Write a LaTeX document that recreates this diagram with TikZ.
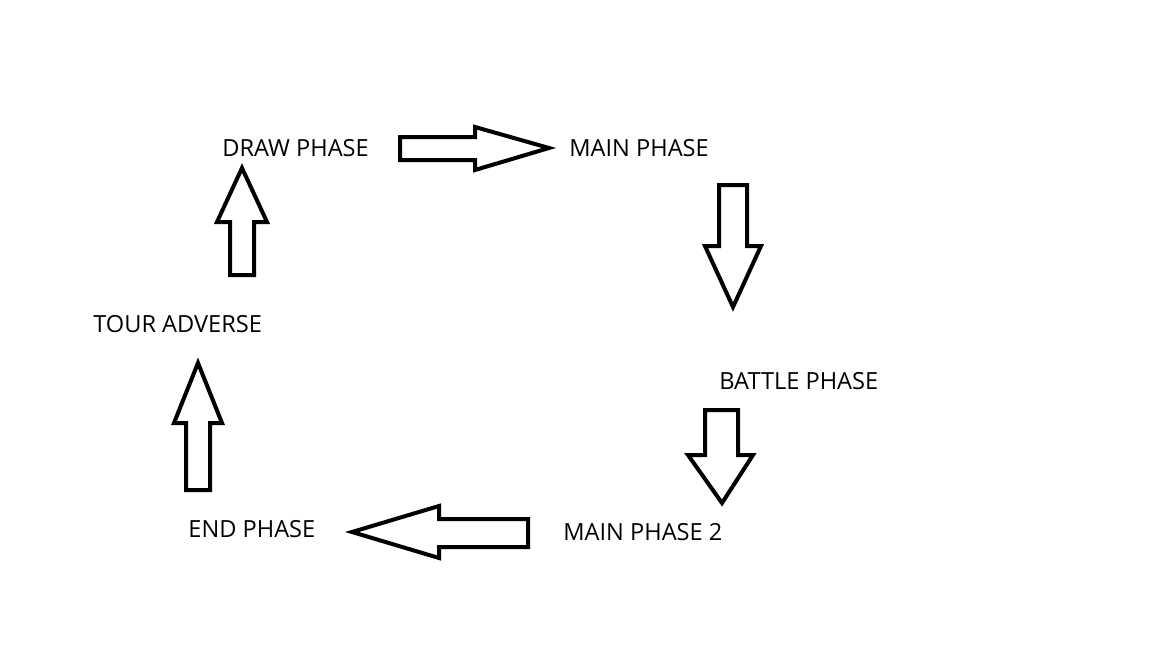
\documentclass[tikz,border=0pt]{standalone}
\usepackage{fontspec}
\setmainfont{Open Sans}
\begin{document}
\begin{tikzpicture}[x=0.5pt,y=-0.5pt,
  lbl/.style={anchor=base west,inner sep=0pt,font=\fontsize{11.8pt}{14pt}\selectfont},
  blockarrow/.style={draw=black,line width=2pt,fill=white,miter limit=10}]
\useasboundingbox (0,0) rectangle (1152,648);
\node[lbl] (draw) at (222,156) {DRAW PHASE};
\node[lbl] (main) at (569,156) {MAIN PHASE};
\node[lbl] (tour) at (93,332) {TOUR ADVERSE};
\node[lbl] (battle) at (719,389) {BATTLE PHASE};
\node[lbl] (main2) at (563,540) {MAIN PHASE 2};
\node[lbl] (end) at (188,537) {END PHASE};
% right arrow
\draw[blockarrow] (400,137) -- (475,137) -- (475,127) -- (549,148) -- (475,170) -- (475,160) -- (400,160) -- cycle;
% down arrow (main -> battle)
\draw[blockarrow] (719,185) -- (747,185) -- (747,246) -- (761,246) -- (733,307) -- (705,246) -- (719,246) -- cycle;
% down arrow (battle -> main2)
\draw[blockarrow] (705,410) -- (738,410) -- (738,455) -- (753,455) -- (722,503) -- (688,455) -- (705,455) -- cycle;
% left arrow
\draw[blockarrow] (528,519) -- (439,519) -- (439,506) -- (352,532) -- (439,558) -- (439,547) -- (528,547) -- cycle;
% up arrow (end -> tour)
\draw[blockarrow] (186,490) -- (186,423) -- (174,423) -- (198,363) -- (222,423) -- (210,423) -- (210,490) -- cycle;
% up arrow (tour -> draw)
\draw[blockarrow] (230,275) -- (230,222) -- (217,222) -- (242,168) -- (267,222) -- (254,222) -- (254,275) -- cycle;
\end{tikzpicture}
\end{document}
